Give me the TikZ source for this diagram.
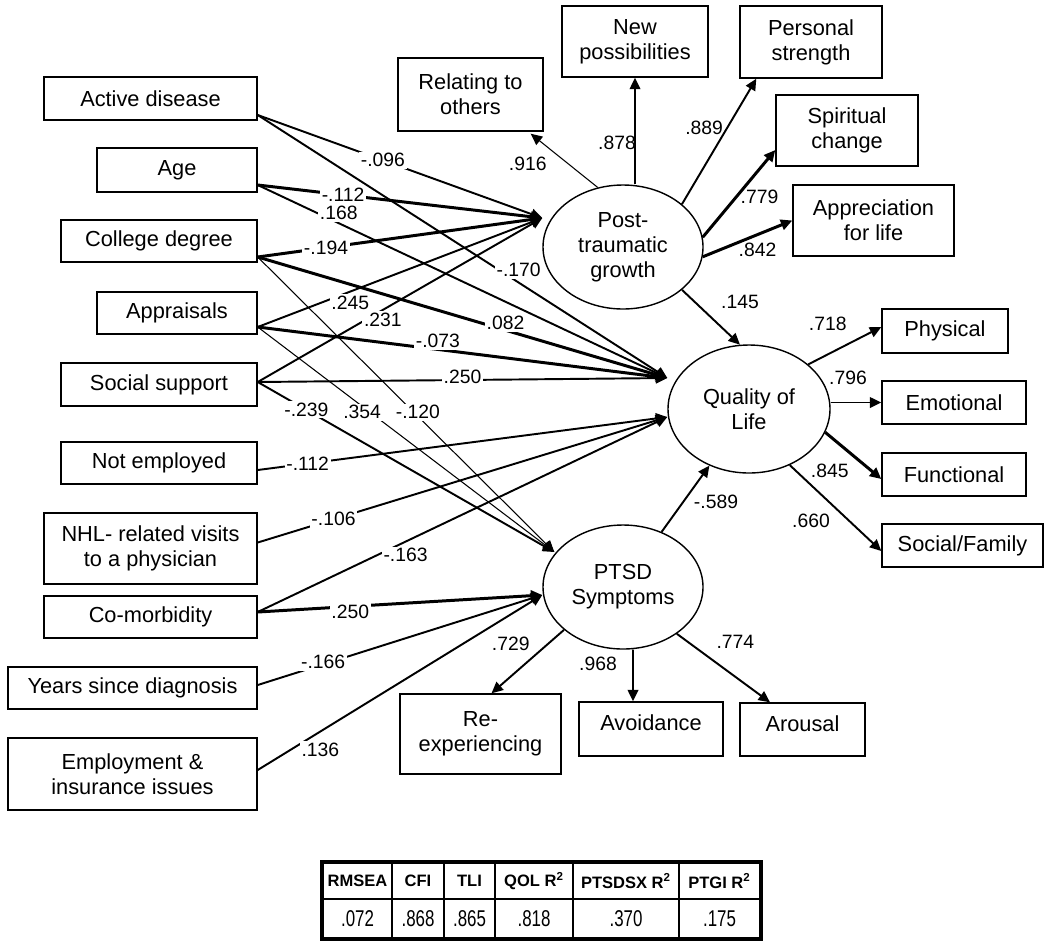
\documentclass[tikz,border=0pt]{standalone}
\usepackage{fontspec}
\setmainfont{Liberation Sans}
\usepackage{graphicx}
\usetikzlibrary{arrows.meta,shapes.geometric,calc}
\def\u{0.02cm}
\newcommand\bxfont{\fontsize{12.4}{14.2}\selectfont}
\newcommand\lbfont{\fontsize{11}{13}\selectfont}
\newcommand\hdfont{\fontsize{9.4}{11}\selectfont\bfseries}
\newcommand\vlfont{\fontsize{13}{15}\selectfont}
\newcommand\nar[1]{\scalebox{0.74}[1]{#1}}
\newcommand\up[1]{\raisebox{3.4pt}[\height][\depth]{#1}}
\newcommand\lab[5]{\path (#1) -- (#2) node[lbl,pos=#3,#4]{#5};}
\newcommand\olab[5]{\path (#1) -- (#2) node[olbl,pos=#3,#4]{#5};}
\begin{document}
\begin{tikzpicture}[x=\u,y=-\u,
  box/.style={draw, line width=0.8pt, inner sep=0pt, align=center, font=\bxfont},
  lat/.style={draw, ellipse, line width=0.8pt, inner sep=0pt, align=center, font=\bxfont},
  arr/.style={-{Triangle[length=6.5pt,width=6pt]}, line width=1.1pt},
  thk/.style={line width=1.7pt},
  thn/.style={line width=0.6pt},
  lbl/.style={font=\lbfont, fill=white, inner sep=1pt},
  olbl/.style={font=\lbfont, inner sep=1pt},
  cell/.style={draw, line width=1.3pt, inner sep=0pt, align=center}]
\useasboundingbox (0,0) rectangle (1050,944);

% ---------- predictors ----------
\node[box, minimum width=213*\u, minimum height=43*\u] (act) at (150.5,98.5) {Active disease};
\node[box, minimum width=160*\u, minimum height=44*\u] (age) at (177,170) {Age};
\node[box, minimum width=196*\u, minimum height=42*\u] (col) at (159,241) {College degree};
\node[box, minimum width=160*\u, minimum height=42*\u] (app) at (177,313) {Appraisals};
\node[box, minimum width=196*\u, minimum height=43*\u] (soc) at (159,384.5) {Social support};
\node[box, minimum width=196*\u, minimum height=42*\u] (notemp) at (159,463) {Not employed};
\node[box, minimum width=213*\u, minimum height=71*\u] (nhl) at (150.5,548.5) {NHL- related visits\\to a physician};
\node[box, minimum width=213*\u, minimum height=42*\u] (com) at (150.5,617) {Co-morbidity};
\node[box, minimum width=249*\u, minimum height=42*\u] (yrs) at (132.5,688) {Years since diagnosis};
\node[box, minimum width=249*\u, minimum height=72*\u] (emp) at (132.5,774) {Employment \&\\insurance issues};

% ---------- latent variables ----------
\node[lat, minimum width=160*\u, minimum height=124*\u] (ptg) at (623,247) {Post-\\traumatic\\growth};
\node[lat, minimum width=162*\u, minimum height=128*\u] (qol) at (749,409) {Quality of\\Life};
\node[lat, minimum width=160*\u, minimum height=124*\u] (ptsd) at (623,587) {PTSD\\Symptoms};

% ---------- indicators ----------
\node[box, minimum width=145*\u, minimum height=73*\u] (rel) at (470.5,94.5) {Relating to\\others};
\node[box, minimum width=146*\u, minimum height=71*\u] (newp) at (635,41.5) {New\\possibilities};
\node[box, minimum width=142*\u, minimum height=72*\u] (pers) at (811,42) {Personal\\strength};
\node[box, minimum width=142*\u, minimum height=71*\u] (spir) at (847,130.5) {Spiritual\\change};
\node[box, minimum width=161*\u, minimum height=71*\u] (appr) at (873.5,220.5) {Appreciation\\for life};
\node[box, minimum width=126*\u, minimum height=44*\u] (phys) at (945,331) {Physical};
\node[box, minimum width=144*\u, minimum height=43*\u] (emo) at (954,402.5) {Emotional};
\node[box, minimum width=144*\u, minimum height=43*\u] (func) at (954,474.5) {Functional};
\node[box, minimum width=161*\u, minimum height=43*\u] (socf) at (962.5,545.5) {Social/Family};
\node[box, minimum width=161*\u, minimum height=80*\u] (reexp) at (480.5,734) {Re-\\experiencing};
\node[box, minimum width=144*\u, minimum height=54*\u] (avoid) at (651,729) {\up{Avoidance}};
\node[box, minimum width=125*\u, minimum height=53*\u] (arous) at (802.5,729.5) {\up{Arousal}};

% ---------- connector end points ----------
\coordinate (ptgin) at ([yshift=0.58cm]ptg.west);
\coordinate (qolin1) at ([yshift=0.62cm]qol.west);
\coordinate (qolin2) at ([yshift=-0.16cm]qol.west);
\coordinate (ptsdin1) at ([xshift=0.24cm,yshift=0.7cm]ptsd.west);
\coordinate (ptsdin2) at ([yshift=-0.16cm]ptsd.west);
\coordinate (actS) at ([yshift=-0.33cm]act.east);
\coordinate (ageS) at ([yshift=-0.3cm]age.east);
\coordinate (colS) at ([yshift=-0.32cm]col.east);
\coordinate (appS) at ([yshift=-0.28cm]app.east);
\coordinate (socS) at ([yshift=0.05cm]soc.east);
\coordinate (neS) at ([yshift=-0.14cm]notemp.east);
\coordinate (nhlS) at ([yshift=0.12cm]nhl.east);
\coordinate (comS) at ([yshift=0.1cm]com.east);
\coordinate (yrsS) at ([yshift=0.06cm]yrs.east);
\coordinate (empS) at ([yshift=0.08cm]emp.east);

% outgoing end points
\coordinate (relE) at ([xshift=-0.26cm,yshift=-0.04cm]rel.south east);
\coordinate (newS) at (ptg.north -| newp.south);
\coordinate (persE) at ([xshift=0.34cm]pers.south west);
\coordinate (spirE) at ([yshift=-0.39cm]spir.west);
\coordinate (physE) at ([yshift=0.08cm]phys.west);
\coordinate (emoS) at (qol.east |- emo.west);
\coordinate (funcE) at ([yshift=-0.09cm]func.west);
\coordinate (socfE) at ([yshift=-0.11cm]socf.west);
\coordinate (reexpE) at ([xshift=0.22cm]reexp.north);
\coordinate (avS) at ([xshift=0.2cm]ptsd.south);
\coordinate (avE) at ([xshift=-0.36cm]avoid.north);
\coordinate (arE) at ([xshift=-0.65cm]arous.north);

% ---------- structural paths ----------
\draw[arr] (actS) -- (ptgin);
\draw[arr,thk] (ageS) -- (ptgin);
\draw[arr,thk] (colS) -- (ptgin);
\draw[arr] (appS) -- (ptgin);
\draw[arr] (socS) -- (ptgin);
\draw[arr] (actS) -- (qolin1);
\draw[arr] (ageS) -- (qolin1);
\draw[arr,thk] (colS) -- (qolin1);
\draw[arr,thk] (appS) -- (qolin1);
\draw[arr] (socS) -- (qolin1);
\draw[arr,thn] (colS) -- (ptsdin1);
\draw[arr,thn] (appS) -- (ptsdin1);
\draw[arr] (socS) -- (ptsdin1);
\draw[arr] (neS) -- (qolin2);
\draw[arr] (nhlS) -- (qolin2);
\draw[arr] (comS) -- (qolin2);
\draw[arr,thk] (comS) -- (ptsdin2);
\draw[arr] (yrsS) -- (ptsdin2);
\draw[arr] (empS) -- (ptsdin2);

% ---------- measurement paths ----------
\draw[arr,thn] (ptg.113) -- (relE);
\draw[arr] (newS) -- (newp.south);
\draw[arr] (ptg.36) -- (persE);
\draw[arr,thk] (ptg.7) -- (spirE);
\draw[arr,thk] (ptg.-7) -- (appr.west);
\draw[arr] (ptg.-36) -- (qol.98);
\draw[arr] (qol.37) -- (physE);
\draw[arr] (emoS) -- (emo.west);
\draw[arr,thk] (qol.-17) -- (funcE);
\draw[arr] (qol.-54) -- (socfE);
\draw[arr] (ptsd.55) -- (qol.235);
\draw[arr] (ptsd.216) -- (reexpE);
\draw[arr] (avS) -- (avE);
\draw[arr] (ptsd.-41) -- (arE);

% ---------- coefficient labels ----------
\lab{actS}{ptgin}{.44}{}{-.096}
\lab{ageS}{ptgin}{.30}{}{-.112}
\lab{colS}{ptgin}{.24}{}{-.194}
\lab{appS}{ptgin}{.325}{yshift=-0.23cm}{.245}
\lab{socS}{ptgin}{.44}{yshift=-0.2cm}{.231}
\lab{actS}{qolin1}{.637}{yshift=0.25cm}{-.170}
\lab{ageS}{qolin1}{.198}{yshift=0.2cm}{.168}
\lab{colS}{qolin1}{.605}{yshift=0.14cm}{.082}
\lab{appS}{qolin1}{.44}{yshift=0.17cm}{-.073}
\lab{socS}{qolin1}{.5}{yshift=0.06cm}{.250}
\lab{socS}{ptsdin1}{.164}{}{-.239}
\lab{appS}{ptsdin1}{.352}{yshift=-0.12cm}{.354}
\lab{colS}{ptsdin1}{.54}{yshift=0.08cm}{-.120}
\lab{neS}{qolin2}{.122}{}{-.112}
\lab{nhlS}{qolin2}{.185}{}{-.106}
\lab{comS}{qolin2}{.361}{yshift=-0.27cm}{-.163}
\lab{comS}{ptsdin2}{.325}{yshift=-0.11cm}{.250}
\lab{yrsS}{ptsdin2}{.23}{yshift=0.04cm}{-.166}
\lab{empS}{ptsdin2}{.22}{yshift=-0.37cm}{.136}

\olab{ptg.113}{relE}{.5}{xshift=-0.73cm,yshift=-0.06cm}{.916}
\olab{newS}{newp.south}{.5}{xshift=-0.36cm,yshift=-0.24cm}{.878}
\olab{ptg.36}{persE}{.5}{xshift=-0.3cm,yshift=0.28cm}{.889}
\olab{ptg.7}{spirE}{.5}{xshift=0.41cm,yshift=-0.07cm}{.779}
\olab{ptg.-7}{appr.west}{.5}{xshift=0.2cm,yshift=-0.23cm}{.842}
\olab{ptg.-36}{qol.98}{.5}{xshift=0.58cm,yshift=0.3cm}{.145}
\olab{qol.37}{physE}{.5}{xshift=-0.34cm,yshift=0.43cm}{.718}
\olab{emoS}{emo.west}{.5}{xshift=-0.16cm,yshift=0.49cm}{.796}
\olab{qol.-17}{funcE}{.5}{xshift=-0.47cm,yshift=-0.3cm}{.845}
\olab{qol.-54}{socfE}{.5}{xshift=-0.49cm,yshift=-0.26cm}{.660}
\olab{ptsd.55}{qol.235}{.5}{xshift=0.61cm,yshift=-0.06cm}{-.589}
\olab{ptsd.216}{reexpE}{.5}{xshift=-0.34cm,yshift=0.35cm}{.729}
\olab{avS}{avE}{.5}{xshift=-0.7cm,yshift=0.24cm}{.968}
\olab{ptsd.-41}{arE}{.5}{xshift=0.24cm,yshift=0.53cm}{.774}

% ---------- fit table ----------
\node[cell, minimum width=69*\u, minimum height=36*\u, font=\hdfont] (h1) at (357.5,881) {RMSEA};
\node[cell, minimum width=52*\u, minimum height=36*\u, font=\hdfont] (h2) at (418,881) {CFI};
\node[cell, minimum width=51*\u, minimum height=36*\u, font=\hdfont] (h3) at (469.5,881) {TLI};
\node[cell, minimum width=78*\u, minimum height=36*\u, font=\hdfont] (h4) at (534,881) {QOL R\textsuperscript{2}};
\node[cell, minimum width=106*\u, minimum height=36*\u, font=\hdfont] (h5) at (626,881) {PTSDSX R\textsuperscript{2}};
\node[cell, minimum width=81*\u, minimum height=36*\u, font=\hdfont] (h6) at (719.5,881) {PTGI R\textsuperscript{2}};
\node[cell, minimum width=69*\u, minimum height=39*\u, font=\vlfont] (v1) at (357.5,918.5) {\nar{.072}};
\node[cell, minimum width=52*\u, minimum height=39*\u, font=\vlfont] (v2) at (418,918.5) {\nar{.868}};
\node[cell, minimum width=51*\u, minimum height=39*\u, font=\vlfont] (v3) at (469.5,918.5) {\nar{.865}};
\node[cell, minimum width=78*\u, minimum height=39*\u, font=\vlfont] (v4) at (534,918.5) {\nar{.818}};
\node[cell, minimum width=106*\u, minimum height=39*\u, font=\vlfont] (v5) at (626,918.5) {\nar{.370}};
\node[cell, minimum width=81*\u, minimum height=39*\u, font=\vlfont] (v6) at (719.5,918.5) {\nar{.175}};
\draw[line width=2pt] (h1.north west) rectangle (v6.south east);
\end{tikzpicture}
\end{document}
